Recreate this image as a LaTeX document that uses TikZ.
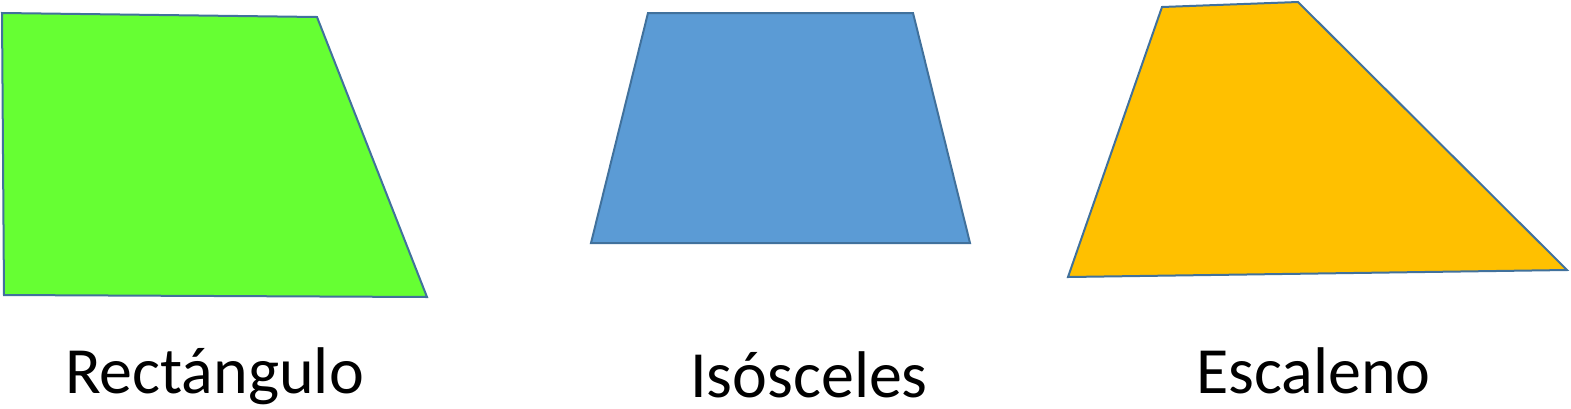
\documentclass[tikz,border=0pt]{standalone}
\usepackage{fontspec}
\setmainfont{Carlito}
\definecolor{verde}{HTML}{66FF33}
\definecolor{azul}{HTML}{5B9BD5}
\definecolor{naranja}{HTML}{FFC000}
\definecolor{borde}{HTML}{41719C}
\begin{document}
\begin{tikzpicture}[x=1pt,y=-1pt,
        figura/.style={draw=borde, line width=2pt, line join=miter},
        nombre/.style={anchor=base, inner sep=0pt, font=\fontsize{66}{72}\selectfont}]
        \useasboundingbox (0,0) rectangle (1571,408);
        \filldraw[figura, fill=verde] (2,13) -- (317,17) -- (427,297) -- (4,295) -- cycle;
        \filldraw[figura, fill=azul] (648,13) -- (913,13) -- (970,243) -- (591,243) -- cycle;
        \filldraw[figura, fill=naranja] (1162,7) -- (1298,2) -- (1567,270) -- (1068,277) -- cycle;
        \node[nombre] (rect) at (214.5,393) {Rectángulo};
        \node[nombre] (isos) at (809,397) {Isósceles};
        \node[nombre] (esca) at (1313.5,393) {Escaleno};
    \end{tikzpicture}
\end{document}
